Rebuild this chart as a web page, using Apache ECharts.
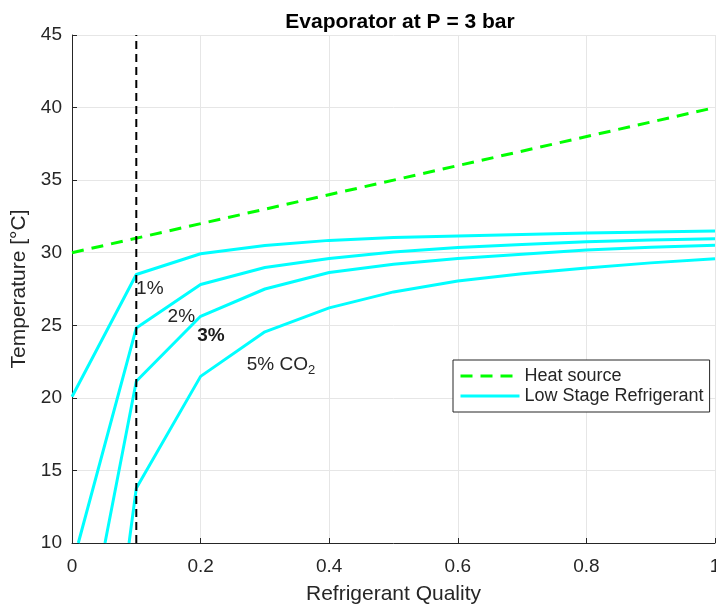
<!DOCTYPE html>
<html>
<head>
<meta charset="utf-8">
<script src="https://cdn.jsdelivr.net/npm/echarts@6/dist/echarts.min.js"></script>
<style>
html,body{margin:0;padding:0;background:#fff;}
#evap{width:716px;height:607px;}
</style>
</head>
<body>
<div id="evap"></div>
<script>
// heat source line
var heatQuality=[0,1];
var heatTemp=[30,40];
// low stage refrigerant, one curve per CO2 share
var q1=[0,0.1,0.2,0.3,0.4,0.5,0.6,0.7,0.8,0.9,1.0];
var t1=[20.08,28.5,29.93,30.5,30.85,31.05,31.15,31.25,31.36,31.43,31.49];
var q2=[0.0098,0.1,0.2,0.3,0.4,0.5,0.6,0.7,0.8,0.9,1.0];
var t2=[10,24.82,27.81,28.98,29.6,30.05,30.36,30.57,30.76,30.88,30.96];
var q3=[0.0513,0.1,0.2,0.3,0.4,0.5,0.6,0.7,0.8,0.9,1.0];
var t3=[10,21.14,25.62,27.5,28.64,29.2,29.6,29.9,30.18,30.37,30.52];
var q5=[0.0887,0.1,0.2,0.3,0.4,0.5,0.6,0.7,0.8,0.9,1.0];
var t5=[10,13.78,21.48,24.55,26.2,27.3,28.05,28.55,28.95,29.3,29.58];
// vertical marker at quality 0.1
var markQuality=[0.1,0.1];
var markTemp=[10,45];
// curve labels
var labelText=['1%','2%','{b|3%}','{n|5% CO}{s|2}'];
var labelQuality=[0.121,0.170,0.216,0.325];
var labelTemp=[27.5,25.57,24.29,22.3];
// ticks
var xTicks=[0,0.2,0.4,0.6,0.8,1];
var yTicks=[10,15,20,25,30,35,40,45];

function pairs(xs,ys){
    var out=[];
    for(var i=0;i<xs.length;i++){out.push([xs[i],ys[i]]);}
    return out;
}

window.onload=init;
function init(){
    var chart=echarts.init(document.getElementById('evap'));
    var ink='#262626';
    var cyan='#00ffff';
    var labels=[];
    for(var i=0;i<labelText.length;i++){
        labels.push({value:[labelQuality[i],labelTemp[i]],name:labelText[i]});
    }
    function refr(xs,ys){
        return {
            name:'Low Stage Refrigerant',
            type:'line',
            data:pairs(xs,ys),
            symbol:'none',
            showSymbol:false,
            lineStyle:{color:cyan,width:3},
            itemStyle:{color:cyan},
            animation:false
        };
    }
    var option={
        title:{
            text:'Evaporator at P = 3 bar',
            left:395,
            textAlign:'center',
            top:7,
            textStyle:{fontFamily:'Liberation Sans',fontSize:21,fontWeight:'bold',color:'#000'}
        },
        grid:{left:72,right:1,top:35,bottom:64,containLabel:false,outerBoundsMode:'none'},
        legend:{
            data:['Heat source','Low Stage Refrigerant'],
            orient:'vertical',
            left:453,
            top:360,
            padding:[7,6,7,6],
            itemGap:2,
            itemWidth:59,
            itemHeight:12,
            backgroundColor:'#fff',
            borderColor:ink,
            borderWidth:1,
            borderRadius:0,
            itemStyle:{opacity:0},
            lineStyle:{width:3},
            textStyle:{fontFamily:'Liberation Sans',fontSize:18,color:ink}
        },
        xAxis:{
            type:'value',
            min:0,max:1,interval:0.2,
            name:'Refrigerant Quality',
            nameLocation:'middle',
            nameGap:41,
            nameTextStyle:{fontFamily:'Liberation Sans',fontSize:21,color:ink},
            axisLine:{lineStyle:{color:ink,width:1}},
            axisTick:{inside:true,length:5,lineStyle:{color:ink}},
            axisLabel:{margin:14,fontFamily:'Liberation Sans',fontSize:19,color:ink,
                formatter:function(v){return xTicks.indexOf(Math.round(v*10)/10)>=0?String(Math.round(v*10)/10):'';}},
            splitLine:{show:true,lineStyle:{color:'#e6e6e6',width:1}}
        },
        yAxis:{
            type:'value',
            min:10,max:45,interval:5,
            name:'Temperature [°C]',
            nameLocation:'middle',
            nameGap:36,
            nameTextStyle:{fontFamily:'Liberation Sans',fontSize:21,color:ink},
            axisLine:{show:true,lineStyle:{color:ink,width:1}},
            axisTick:{show:true,inside:true,length:5,lineStyle:{color:ink}},
            axisLabel:{margin:10,fontFamily:'Liberation Sans',fontSize:19,color:ink,
                formatter:function(v){return yTicks.indexOf(v)>=0?String(v):'';}},
            splitLine:{show:true,lineStyle:{color:'#e6e6e6',width:1}}
        },
        series:[
            refr(q1,t1),
            refr(q2,t2),
            refr(q3,t3),
            refr(q5,t5),
            {
                name:'Heat source',
                type:'line',
                data:pairs(heatQuality,heatTemp),
                symbol:'none',
                showSymbol:false,
                lineStyle:{color:'#00ff00',width:3,type:[12,8]},
                itemStyle:{color:'#00ff00'},
                animation:false
            },
            {
                name:'marker',
                type:'line',
                data:pairs(markQuality,markTemp),
                symbol:'none',
                lineStyle:{color:'#000',width:2,type:[8,5]},
                animation:false,
                silent:true
            },
            {
                name:'labels',
                type:'scatter',
                data:labels,
                symbolSize:0,
                itemStyle:{opacity:1},
                animation:false,
                silent:true,
                label:{
                    show:true,
                    position:'inside',
                    formatter:function(p){return p.name;},
                    fontFamily:'Liberation Sans',
                    fontSize:19,
                    color:ink,
                    opacity:1,
                    textBorderWidth:0,
                    rich:{
                        b:{fontFamily:'Liberation Sans',fontSize:19,fontWeight:'bold',color:'#1a1a1a',textBorderWidth:0},
                        n:{fontFamily:'Liberation Sans',fontSize:19,color:ink,lineHeight:22,textBorderWidth:0},
                        s:{fontFamily:'Liberation Sans',fontSize:13,color:ink,padding:[12,0,0,0],textBorderWidth:0}
                    }
                }
            }
        ]
    };
    chart.setOption(option);
}
</script>
</body>
</html>
